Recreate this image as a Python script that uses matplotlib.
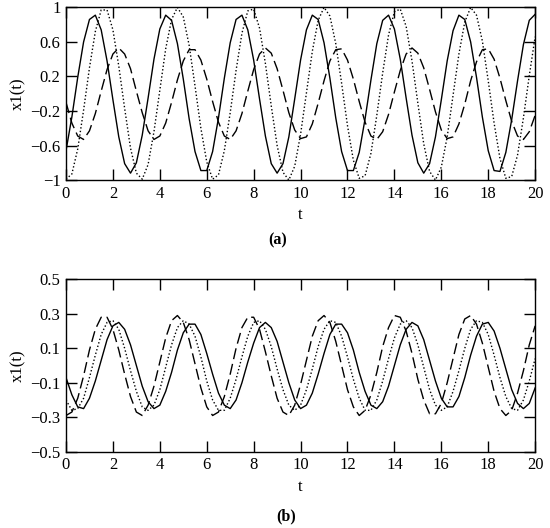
import matplotlib
matplotlib.use('Agg')
import matplotlib.pyplot as plt
import numpy as np

# time samples (step 0.25 from 0 to 20)
t = np.linspace(0, 20, 81)

# panel (a) values
a_solid = [-0.66, -0.27, 0.19, 0.60, 0.86, 0.91, 0.74, 0.38, -0.07, -0.50,
           -0.81, -0.92, -0.80, -0.48, -0.05, 0.40, 0.75, 0.91, 0.85, 0.58,
           0.17, -0.29, -0.67, -0.89, -0.89, -0.67, -0.28, 0.18, 0.59, 0.86,
           0.91, 0.74, 0.39, -0.06, -0.49, -0.81, -0.92, -0.81, -0.50, -0.06,
           0.39, 0.74, 0.91, 0.86, 0.59, 0.18, -0.28, -0.67, -0.89, -0.89,
           -0.68, -0.29, 0.16, 0.58, 0.85, 0.91, 0.75, 0.40, -0.05, -0.48,
           -0.80, -0.92, -0.81, -0.50, -0.07, 0.38, 0.73, 0.91, 0.86, 0.60,
           0.19, -0.27, -0.66, -0.89, -0.90, -0.68, -0.30, 0.15, 0.57, 0.85,
           0.92]
a_dotted = [-0.99, -0.93, -0.64, -0.19, 0.30, 0.72, 0.97, 0.97, 0.74, 0.32,
            -0.17, -0.63, -0.92, -0.99, -0.82, -0.44, 0.04, 0.52, 0.86, 1.00,
            0.89, 0.56, 0.09, -0.40, -0.79, -0.99, -0.94, -0.66, -0.22, 0.27,
            0.70, 0.96, 0.98, 0.76, 0.35, -0.14, -0.60, -0.91, -1.00, -0.84,
            -0.47, 0.01, 0.49, 0.85, 1.00, 0.90, 0.58, 0.12, -0.37, -0.77,
            -0.98, -0.95, -0.69, -0.25, 0.24, 0.68, 0.95, 0.98, 0.78, 0.38,
            -0.11, -0.58, -0.90, -1.00, -0.85, -0.50, -0.02, 0.46, 0.83, 1.00,
            0.91, 0.61, 0.15, -0.34, -0.75, -0.98, -0.96, -0.71, -0.28, 0.21,
            0.66]
a_dashed = [-0.10, -0.34, -0.49, -0.53, -0.43, -0.23, 0.03, 0.28, 0.46, 0.53,
            0.46, 0.29, 0.03, -0.22, -0.43, -0.53, -0.49, -0.34, -0.10, 0.16,
            0.38, 0.51, 0.51, 0.39, 0.17, -0.09, -0.33, -0.49, -0.53, -0.43,
            -0.23, 0.03, 0.28, 0.46, 0.53, 0.47, 0.29, 0.04, -0.22, -0.42,
            -0.52, -0.50, -0.35, -0.11, 0.15, 0.38, 0.51, 0.52, 0.39, 0.17,
            -0.09, -0.33, -0.49, -0.53, -0.44, -0.24, 0.02, 0.27, 0.46, 0.53,
            0.47, 0.30, 0.05, -0.21, -0.42, -0.52, -0.50, -0.35, -0.12, 0.15,
            0.37, 0.51, 0.52, 0.40, 0.18, -0.08, -0.32, -0.49, -0.53, -0.44,
            -0.25]

# panel (b) values
b_solid = [-0.07, -0.17, -0.24, -0.25, -0.19, -0.09, 0.03, 0.15, 0.23, 0.25,
           0.21, 0.12, 0.00, -0.12, -0.21, -0.25, -0.23, -0.15, -0.04, 0.09,
           0.19, 0.24, 0.24, 0.18, 0.07, -0.05, -0.16, -0.23, -0.25, -0.20,
           -0.10, 0.02, 0.13, 0.22, 0.25, 0.22, 0.14, 0.02, -0.10, -0.20,
           -0.25, -0.23, -0.16, -0.05, 0.07, 0.18, 0.24, 0.24, 0.19, 0.09,
           -0.04, -0.15, -0.23, -0.25, -0.21, -0.12, 0.00, 0.12, 0.21, 0.25,
           0.23, 0.15, 0.03, -0.09, -0.19, -0.24, -0.24, -0.18, -0.07, 0.06,
           0.17, 0.24, 0.25, 0.20, 0.10, -0.02, -0.14, -0.22, -0.25, -0.22,
           -0.13]
b_dotted = [-0.20, -0.26, -0.25, -0.19, -0.07, 0.06, 0.18, 0.25, 0.26, 0.21,
            0.10, -0.03, -0.15, -0.24, -0.26, -0.23, -0.14, -0.01, 0.12, 0.22,
            0.26, 0.24, 0.17, 0.05, -0.09, -0.20, -0.26, -0.26, -0.19, -0.08,
            0.05, 0.17, 0.25, 0.26, 0.21, 0.11, -0.02, -0.14, -0.23, -0.26,
            -0.23, -0.14, -0.02, 0.11, 0.21, 0.26, 0.25, 0.17, 0.05, -0.08,
            -0.19, -0.26, -0.26, -0.20, -0.09, 0.04, 0.16, 0.24, 0.26, 0.22,
            0.12, -0.01, -0.14, -0.23, -0.26, -0.24, -0.15, -0.03, 0.10, 0.21,
            0.26, 0.25, 0.18, 0.06, -0.07, -0.18, -0.25, -0.26, -0.20, -0.09,
            0.04]
b_dashed = [-0.29, -0.27, -0.19, -0.06, 0.09, 0.21, 0.28, 0.28, 0.21, 0.09,
            -0.05, -0.18, -0.27, -0.29, -0.23, -0.12, 0.02, 0.16, 0.26, 0.29,
            0.25, 0.15, 0.01, -0.13, -0.24, -0.29, -0.27, -0.18, -0.05, 0.10,
            0.22, 0.28, 0.28, 0.21, 0.08, -0.06, -0.19, -0.27, -0.29, -0.23,
            -0.11, 0.03, 0.17, 0.26, 0.29, 0.25, 0.14, 0.00, -0.14, -0.24,
            -0.29, -0.26, -0.17, -0.04, 0.11, 0.22, 0.29, 0.28, 0.20, 0.07,
            -0.08, -0.20, -0.28, -0.28, -0.22, -0.10, 0.04, 0.18, 0.27, 0.29,
            0.24, 0.13, -0.01, -0.15, -0.25, -0.29, -0.26, -0.16, -0.03, 0.12,
            0.23]

x_ticks = list(range(0, 21, 2))
a_yticks = [-1, -0.6, -0.2, 0.2, 0.6, 1]
a_ylabels = ['\u22121', '\u22120.6', '\u22120.2', '0.2', '0.6', '1']
b_yticks = [-0.5, -0.3, -0.1, 0.1, 0.3, 0.5]
b_ylabels = ['\u22120.5', '\u22120.3', '\u22120.1', '0.1', '0.3', '0.5']

plt.rcParams['font.family'] = ['Liberation Serif', 'DejaVu Serif']
plt.rcParams['font.size'] = 12

fig = plt.figure(figsize=(5.5, 5.28), dpi=100)
ax_a = fig.add_axes([0.12, 0.659, 0.853, 0.327])
ax_b = fig.add_axes([0.12, 0.1445, 0.853, 0.3265])

dotted = (0, (1.0, 1.6))
dashed = (0, (8, 3.5))

def draw(ax, s, d, da, yticks, ylabels, ylim):
    ax.plot(t, s, color='black', lw=1.0, ls='-')
    ax.plot(t, d, color='black', lw=1.0, ls=dotted)
    ax.plot(t, da, color='black', lw=1.0, ls=dashed)
    ax.set_xlim(0, 20)
    ax.set_ylim(*ylim)
    ax.set_xticks(x_ticks)
    ax.set_yticks(yticks)
    ax.set_yticklabels(ylabels)
    ax.tick_params(direction='in', top=True, right=True, length=8, width=1,
                   pad=4, labelsize=12)
    for sp in ax.spines.values():
        sp.set_linewidth(1.0)
    ax.set_xlabel('t', labelpad=4, fontsize=12)
    ax.set_ylabel('x1(t)', labelpad=3, fontsize=12)

draw(ax_a, a_solid, a_dotted, a_dashed, a_yticks, a_ylabels, (-1, 1))
draw(ax_b, b_solid, b_dotted, b_dashed, b_yticks, b_ylabels, (-0.5, 0.5))

fig.text(0.505, 1 - 240 / 528, '(a)', ha='center', va='center',
         fontsize=11.5, fontweight='bold')
fig.text(0.52, 1 - 516 / 528, '(b)', ha='center', va='center',
         fontsize=11.5, fontweight='bold')

fig.savefig('out.png', dpi=100)
